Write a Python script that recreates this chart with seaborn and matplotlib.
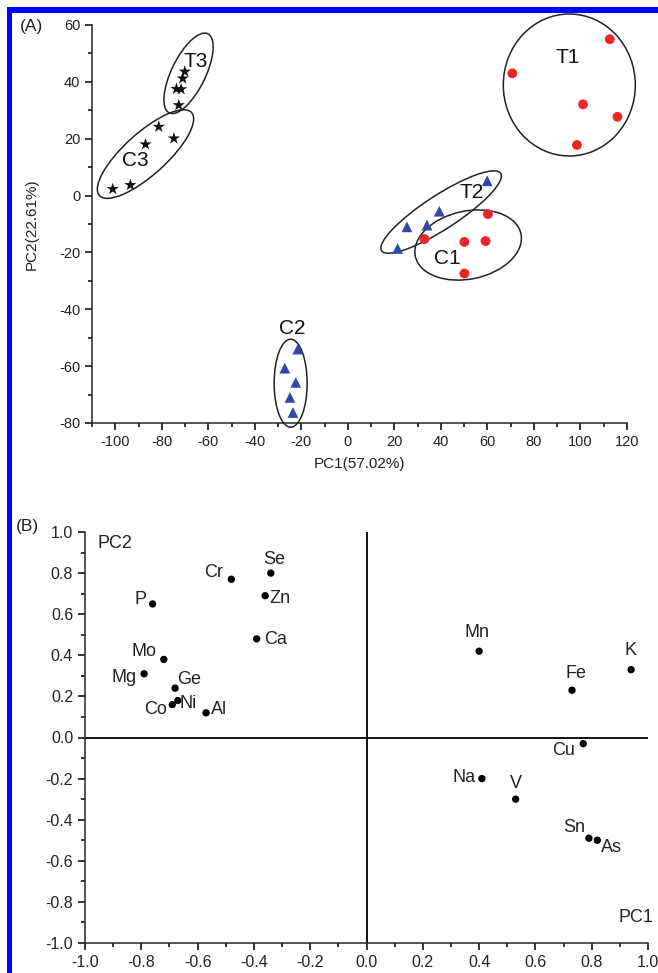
import numpy as np
import pandas as pd
import seaborn as sns
import matplotlib
matplotlib.use("Agg")
import matplotlib.pyplot as plt
from matplotlib.patches import Ellipse, Rectangle
from matplotlib.transforms import ScaledTranslation
from matplotlib.ticker import MultipleLocator

# ---------------- Data: panel A (PCA scores) ----------------
T1_pc1 = [112.6, 70.7, 101.1, 115.9, 98.5]
T1_pc2 = [55.0, 43.0, 32.1, 27.7, 17.8]
C1_pc1 = [60.2, 50.1, 59.2, 32.9, 50.1]
C1_pc2 = [-6.5, -16.3, -16.0, -15.3, -27.4]
T2_pc1 = [59.9, 39.3, 34.0, 25.4, 21.4]
T2_pc2 = [5.2, -5.5, -10.4, -11.0, -18.6]
C2_pc1 = [-21.5, -27.1, -22.4, -24.9, -23.6]
C2_pc2 = [-54.0, -60.7, -65.7, -71.0, -76.3]
T3_pc1 = [-70.1, -71.0, -73.7, -71.7, -72.7]
T3_pc2 = [43.6, 41.2, 37.5, 37.4, 31.8]
C3_pc1 = [-81.3, -74.8, -87.0, -93.5, -101.1]
C3_pc2 = [24.2, 20.1, 18.0, 3.7, 2.3]

group_names = ["T1", "C1", "T2", "C2", "T3", "C3"]
group_kind = {"T1": "circle", "C1": "circle", "T2": "triangle",
              "C2": "triangle", "T3": "star", "C3": "star"}

# ---------------- Data: panel B (loadings) ----------------
elements = ["P", "Cr", "Se", "Zn", "Ca", "Mo", "Mg", "Ge", "Co", "Ni", "Al",
            "Mn", "K", "Fe", "Cu", "Na", "V", "Sn", "As"]
pc1_load = [-0.76, -0.48, -0.34, -0.36, -0.39, -0.72, -0.79, -0.68, -0.69, -0.67, -0.57,
            0.40, 0.94, 0.73, 0.77, 0.41, 0.53, 0.79, 0.82]
pc2_load = [0.65, 0.77, 0.80, 0.69, 0.48, 0.38, 0.31, 0.24, 0.16, 0.18, 0.12,
            0.42, 0.33, 0.23, -0.03, -0.20, -0.30, -0.49, -0.50]

# ---------------- Styling / layout ----------------
sns.set_theme(style="ticks")
plt.rcParams["font.family"] = ["Liberation Sans", "DejaVu Sans"]
plt.rcParams["axes.linewidth"] = 1.1
plt.rcParams["axes.unicode_minus"] = False

W, H = 658, 973
fig = plt.figure(figsize=(W / 100, H / 100), dpi=100)
fig.patch.set_facecolor("white")

# blue frame (left and top)
fig.patches.append(Rectangle((7 / W, 0), 5 / W, (H - 7) / H, transform=fig.transFigure,
                             facecolor="#0000ff", edgecolor="none", zorder=0))
fig.patches.append(Rectangle((7 / W, 1 - 13 / H), 1 - 7 / W, 6 / H, transform=fig.transFigure,
                             facecolor="#0000ff", edgecolor="none", zorder=0))


def px_axes(l, t, r, b):
    return fig.add_axes([l / W, 1 - b / H, (r - l) / W, (b - t) / H])


tick_col = "#222222"

# ================= Panel A =================
axA = px_axes(92, 25, 627, 423)
frames = []
for g, xs, ys in zip(group_names,
                     [T1_pc1, C1_pc1, T2_pc1, C2_pc1, T3_pc1, C3_pc1],
                     [T1_pc2, C1_pc2, T2_pc2, C2_pc2, T3_pc2, C3_pc2]):
    frames.append(pd.DataFrame({"PC1": xs, "PC2": ys, "group": g, "kind": group_kind[g]}))
dfA = pd.concat(frames, ignore_index=True)

kind_style = {"circle": ("o", "#e8262b", 50),
              "triangle": ("^", "#3546a6", 60),
              "star": ("*", "#111111", 85)}
for kind, (mk, col, sz) in kind_style.items():
    sub = dfA[dfA["kind"] == kind]
    sns.scatterplot(data=sub, x="PC1", y="PC2", ax=axA, marker=mk, color=col,
                    s=sz, edgecolor="none", linewidth=0, legend=False, zorder=3)

axA.set_xlim(-110, 120)
axA.set_ylim(-80, 60)
axA.xaxis.set_major_locator(MultipleLocator(20))
axA.xaxis.set_minor_locator(MultipleLocator(10))
axA.yaxis.set_major_locator(MultipleLocator(20))
axA.yaxis.set_minor_locator(MultipleLocator(10))
axA.tick_params(which="major", direction="out", length=5, width=1.1,
                labelsize=10.5, colors="black", labelcolor=tick_col)
axA.tick_params(which="minor", direction="out", length=3, width=1.1, colors="black")
sns.despine(ax=axA)
axA.set_xlabel("PC1(57.02%)", fontsize=11, color=tick_col)
axA.set_ylabel("PC2(22.61%)", fontsize=11, color=tick_col)
axA.xaxis.set_label_coords(0.5, -0.085)
axA.yaxis.set_label_coords(-0.10, 0.5)

# cluster ellipses: centre in data units, size (px) and angle in screen space
ellipses = {"T1": ((95.2, 38.9), 132, 142, 0),
            "C1": ((51.7, -17.4), 108, 68, 12),
            "T2": ((40.1, -5.8), 142, 34, 33),
            "C2": ((-24.6, -66.0), 33, 88, 0),
            "T3": ((-68.5, 43.0), 88, 34, 64),
            "C3": ((-87.0, 14.6), 124, 42, 42)}
for g, ((cx, cy), w, h, ang) in ellipses.items():
    e = Ellipse((0, 0), w, h, angle=ang, facecolor="none", edgecolor="#222222",
                linewidth=1.1, transform=ScaledTranslation(cx, cy, axA.transData),
                zorder=2, clip_on=False)
    axA.add_patch(e)

cluster_text = {"T1": (94.4, 48.4), "C1": (42.7, -22.0), "T2": (53.0, 1.2),
                "C2": (-24.1, -46.7), "T3": (-65.5, 47.2), "C3": (-91.3, 12.5)}
for g, (tx, ty) in cluster_text.items():
    axA.text(tx, ty, g, fontsize=15, ha="center", va="center", color="#111111", zorder=4)

fig.text(20 / W, 1 - 27 / H, "(A)", fontsize=12.5, ha="left", va="center", color=tick_col)

# ================= Panel B =================
axB = px_axes(85, 532, 648, 943)
dfB = pd.DataFrame({"element": elements, "PC1": pc1_load, "PC2": pc2_load})
sns.scatterplot(data=dfB, x="PC1", y="PC2", ax=axB, color="black", s=28,
                edgecolor="none", linewidth=0, legend=False, zorder=3)
axB.axhline(0, color="black", lw=1.3, zorder=1)
axB.axvline(0, color="black", lw=1.3, zorder=1)
axB.set_xlim(-1.0, 1.0)
axB.set_ylim(-1.0, 1.0)
axB.xaxis.set_major_locator(MultipleLocator(0.2))
axB.xaxis.set_minor_locator(MultipleLocator(0.1))
axB.yaxis.set_major_locator(MultipleLocator(0.2))
axB.yaxis.set_minor_locator(MultipleLocator(0.1))
axB.xaxis.set_major_formatter(matplotlib.ticker.FormatStrFormatter("%.1f"))
axB.yaxis.set_major_formatter(matplotlib.ticker.FormatStrFormatter("%.1f"))
axB.tick_params(which="major", direction="out", length=5, width=1.1,
                labelsize=11.5, colors="black", labelcolor=tick_col)
axB.tick_params(which="minor", direction="out", length=3, width=1.1, colors="black")
sns.despine(ax=axB)
axB.set_xlabel("")
axB.set_ylabel("")

# label offsets in pixels (dx right, dy down) from each point
label_offsets = {"P": (-12, -4), "Cr": (-18, -7), "Se": (3, -14), "Zn": (15, 3),
                 "Ca": (19, 1), "Mo": (-20, -8), "Mg": (-20, 4), "Ge": (14, -9),
                 "Co": (-17, 5), "Ni": (10, 3), "Al": (13, -3), "Mn": (-2, -19),
                 "K": (-1, -19), "Fe": (4, -17), "Cu": (-20, 7), "Na": (-18, -1),
                 "V": (0, -16), "Sn": (-15, -11), "As": (14, 7)}
for el, x, y in zip(elements, pc1_load, pc2_load):
    dx, dy = label_offsets[el]
    axB.annotate(el, (x, y), xytext=(dx, -dy), textcoords="offset pixels",
                 ha="center", va="center", fontsize=13, color="#222222", zorder=4)

fig.text(115 / W, 1 - 543 / H, "PC2", fontsize=13, ha="center", va="center", color="#222222")
fig.text(636 / W, 1 - 918 / H, "PC1", fontsize=13, ha="center", va="center", color="#222222")
fig.text(16 / W, 1 - 527 / H, "(B)", fontsize=12.5, ha="left", va="center", color=tick_col)

fig.savefig("out.png", dpi=100, facecolor="white")
